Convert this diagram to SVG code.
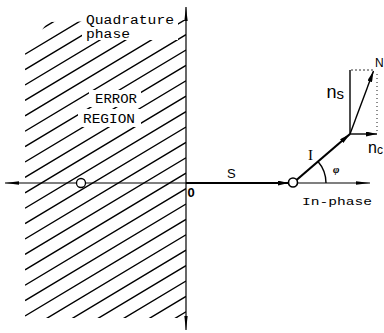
<svg xmlns="http://www.w3.org/2000/svg" width="384" height="333" viewBox="0 0 384 333">
<style>
.hatch{stroke:#000;stroke-width:1.4;fill:none}
.axis{stroke:#000;stroke-width:1.2;fill:none}
.vec{stroke:#000;stroke-width:2.2;fill:none}
.thin{stroke:#000;stroke-width:1.4;fill:none}
.mono{font-family:"Liberation Mono","Courier New",monospace;fill:#000}
.sans{font-family:"Liberation Sans",Arial,sans-serif;fill:#000}
.serif{font-family:"Liberation Serif","Times New Roman",serif;fill:#000}
.knock{fill:#fff;stroke:none}
</style>
<defs>
<marker id="ax" viewBox="0 0 14 5" refX="14" refY="2.5" markerWidth="14" markerHeight="5" markerUnits="userSpaceOnUse" orient="auto-start-reverse">
<path d="M0,0.8 L14,2.5 L0,4.2 z" fill="#000"/>
</marker>
<marker id="ah" viewBox="0 0 11 5" refX="11" refY="2.5" markerWidth="11" markerHeight="5" markerUnits="userSpaceOnUse" orient="auto">
<path d="M0,0 L11,2.5 L0,5 z" fill="#000"/>
</marker>
<clipPath id="hclip">
<path d="M25,52 L48,22 L186,20 L186,318 L25,318 z"/>
</clipPath>
</defs>

<g id="error-region">
<g clip-path="url(#hclip)" class="hatch">
<path d="M25,408.4 L186,311.8 M25,393 L186,296.4 M25,377.6 L186,281 M25,362.2 L186,265.6 M25,346.8 L186,250.2 M25,331.4 L186,234.8 M25,316 L186,219.4 M25,300.6 L186,204 M25,285.2 L186,188.6 M25,269.8 L186,173.2 M25,254.4 L186,157.8 M25,239 L186,142.4 M25,223.6 L186,127 M25,208.2 L186,111.6 M25,192.8 L186,96.2 M25,177.4 L186,80.8 M25,162 L186,65.4 M25,146.6 L186,50 M25,131.2 L186,34.6 M25,115.8 L186,19.2 M25,100.4 L186,3.8 M25,85 L186,-11.6 M25,69.6 L186,-27 M25,54.2 L186,-42.4 M25,38.8 L186,-57.8"/>
</g>
<rect class="knock" x="82" y="11" width="96" height="29"/>
<rect class="knock" x="89" y="90" width="52" height="17"/>
<rect class="knock" x="78" y="109" width="63" height="18"/>
<text class="mono" x="86" y="24" font-size="12" textLength="88" lengthAdjust="spacingAndGlyphs">Quadrature</text>
<text class="mono" x="86" y="37.5" font-size="12" textLength="44" lengthAdjust="spacingAndGlyphs">phase</text>
<text class="mono" x="95" y="103" font-size="13" textLength="42" lengthAdjust="spacingAndGlyphs">ERROR</text>
<text class="mono" x="83" y="123" font-size="13" textLength="52" lengthAdjust="spacingAndGlyphs">REGION</text>
</g>

<g id="connectors">
<line id="in-phase-axis" class="axis" x1="5" y1="183" x2="370" y2="183" marker-start="url(#ax)" marker-end="url(#ax)"/>
<line id="quadrature-axis" class="axis" x1="186" y1="7" x2="186" y2="330" marker-start="url(#ax)" marker-end="url(#ax)"/>
<line id="S" class="vec" x1="186" y1="183" x2="288.5" y2="183" marker-end="url(#ah)"/>
<line id="I" class="vec" x1="296.5" y1="180" x2="350" y2="134" marker-end="url(#ah)"/>
<line id="N" class="thin" x1="350" y1="134" x2="373.5" y2="71" marker-end="url(#ah)"/>
<line id="ns" class="thin" x1="350" y1="134" x2="350" y2="70"/>
<line id="nc" class="thin" x1="350" y1="134" x2="377" y2="134" marker-end="url(#ah)"/>
<line stroke="#000" stroke-width="0.8" stroke-dasharray="2,2" x1="351" y1="70" x2="374" y2="70"/>
<line stroke="#000" stroke-width="0.9" stroke-dasharray="1,3" x1="377" y1="74" x2="377" y2="132"/>
<path id="phi-arc" class="thin" d="M318,161.5 A33,33 0 0 1 326,183"/>
</g>

<g id="origin">
<text class="sans" x="187.5" y="197" font-size="13" font-weight="bold">0</text>
</g>
<g id="point-left">
<circle cx="81" cy="183" r="4.5" fill="#fff" stroke="#000" stroke-width="1.3"/>
</g>
<g id="point-right">
<circle cx="293" cy="182.5" r="4.5" fill="#fff" stroke="#000" stroke-width="1.6"/>
</g>

<g id="labels">
<text class="sans" x="227" y="178" font-size="13">S</text>
<text class="serif" x="308" y="160" font-size="15">I</text>
<text class="serif" x="333" y="173" font-size="11" font-weight="bold" font-style="italic">φ</text>
<text class="sans" x="375" y="67" font-size="12">N</text>
<text class="sans" x="326.5" y="98" font-size="18">n<tspan font-size="15" dy="1">s</tspan></text>
<text class="sans" x="368" y="153" font-size="16">n<tspan font-size="12" dy="1">c</tspan></text>
<text class="mono" x="302" y="205" font-size="11" textLength="70" lengthAdjust="spacingAndGlyphs">In-phase</text>
</g>
</svg>
